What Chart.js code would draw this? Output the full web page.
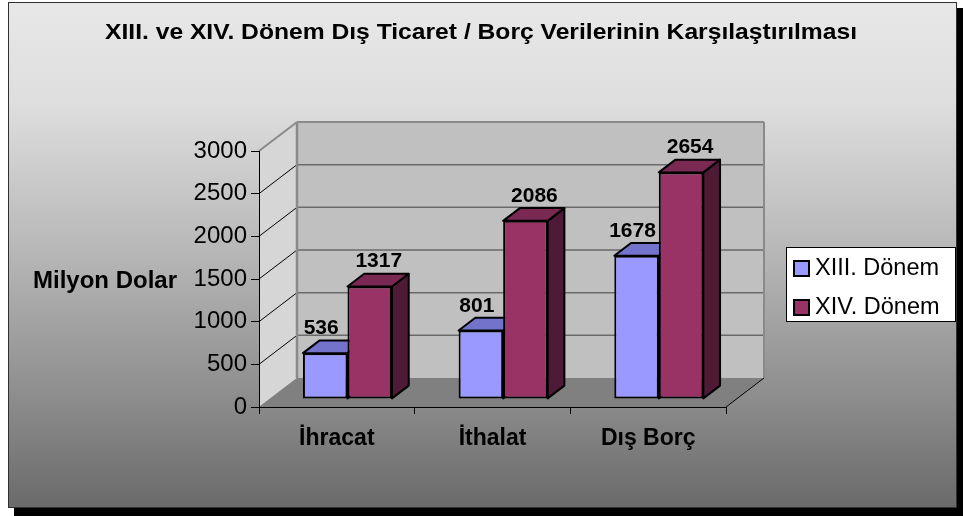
<!DOCTYPE html>
<html><head><meta charset="utf-8">
<script src="https://cdn.jsdelivr.net/npm/chart.js@4.4.0/dist/chart.umd.min.js"></script>
<style>html,body{margin:0;padding:0;background:#fff}#wrap{width:963px;height:516px;position:relative}</style>
</head><body><div id="wrap"><canvas id="c"></canvas></div>
<script>
const categories = ['İhracat', 'İthalat', 'Dış Borç'];
const seriesNames = ['XIII. Dönem', 'XIV. Dönem'];
const xiiiValues = [536, 801, 1678];
const xivValues = [1317, 2086, 2654];
const yTicks = [0, 500, 1000, 1500, 2000, 2500, 3000];
const titleText = 'XIII. ve XIV. Dönem Dış Ticaret / Borç Verilerinin Karşılaştırılması';
const yAxisTitle = 'Milyon Dolar';

const FONT = "'Liberation Sans', Arial, sans-serif";
const COLORS = ['#9999ff', '#993366'];
const TOPS = ['#7373cc', '#7a2952'];
const SIDES = ['#4d4d80', '#4f1a35'];
const DX = 38, DY = -29;       // floor depth vector
const F0 = 0.28, F1 = 0.72;    // bar front/back depth fractions
const LABEL_DX = [-4, 9];

function poly(ctx, pts, fill, stroke, lw) {
  ctx.beginPath();
  ctx.moveTo(pts[0][0], pts[0][1]);
  for (let i = 1; i < pts.length; i++) ctx.lineTo(pts[i][0], pts[i][1]);
  ctx.closePath();
  if (fill) { ctx.fillStyle = fill; ctx.fill(); }
  if (stroke) { ctx.strokeStyle = stroke; ctx.lineWidth = lw || 1; ctx.stroke(); }
}
function line(ctx, x0, y0, x1, y1, c, lw) {
  ctx.beginPath(); ctx.moveTo(x0, y0); ctx.lineTo(x1, y1);
  ctx.strokeStyle = c; ctx.lineWidth = lw; ctx.stroke();
}
function stretchedText(ctx, text, cx, cy, width) {
  const w = ctx.measureText(text).width;
  const sx = width / w;
  ctx.save();
  ctx.translate(cx, cy);
  ctx.scale(sx, 1);
  ctx.textAlign = 'center';
  ctx.fillText(text, 0, 0);
  ctx.restore();
}

const scene = {
  id: 'scene',
  beforeDraw(chart) {
    const ctx = chart.ctx;
    const W = chart.width, H = chart.height;
    const { left, right, top, bottom } = chart.chartArea;
    const ys = chart.scales.y;
    ctx.save();
    ctx.fillStyle = '#ffffff'; ctx.fillRect(0, 0, W, H);
    ctx.fillStyle = '#000000'; ctx.fillRect(14, 8, W - 14, H - 8);
    const g = ctx.createLinearGradient(0, 2, 0, 508);
    g.addColorStop(0, '#e8e8e8');
    g.addColorStop(0.2, '#dedede');
    g.addColorStop(0.5, '#b6b6b6');
    g.addColorStop(0.8, '#8a8a8a');
    g.addColorStop(1, '#6a6a6a');
    ctx.fillStyle = g; ctx.fillRect(8, 2, 949, 506);
    ctx.strokeStyle = '#303030'; ctx.lineWidth = 1; ctx.strokeRect(8.5, 2.5, 948, 505);

    // walls and floor
    poly(ctx, [[left + DX, top + DY], [right + DX, top + DY], [right + DX, bottom + DY], [left + DX, bottom + DY]], '#c0c0c0');
    poly(ctx, [[left, bottom], [left, top], [left + DX, top + DY], [left + DX, bottom + DY]], '#d6d6d6');
    poly(ctx, [[left, bottom], [right, bottom], [right + DX, bottom + DY], [left + DX, bottom + DY]], '#808080');

    for (const v of yTicks) {
      if (v === 0) continue;
      const y = ys.getPixelForValue(v);
      const last = v === yTicks[yTicks.length - 1];
      line(ctx, left + DX, y + DY, right + DX, y + DY, last ? '#8a8a8a' : '#6a6a6a', last ? 2 : 1.5);
      line(ctx, left, y, left + DX, y + DY, last ? '#8a8a8a' : '#000000', last ? 2 : 1);
    }
    line(ctx, left + DX, top + DY, left + DX, bottom + DY, '#8a8a8a', 2.5);
    line(ctx, right + DX, top + DY, right + DX, bottom + DY, '#8a8a8a', 2);
    line(ctx, right, bottom, right + DX, bottom + DY, '#000000', 1);

    // title
    ctx.fillStyle = '#000';
    ctx.font = 'bold 22px ' + FONT;
    ctx.textBaseline = 'middle';
    stretchedText(ctx, titleText, 481, 33, 752);
    ctx.restore();
  },
  beforeDatasetsDraw(chart) {
    const ctx = chart.ctx;
    const fx = F0 * DX, fy = F0 * DY;
    const bx = (F1 - F0) * DX, by = (F1 - F0) * DY;
    ctx.save();
    ctx.lineJoin = 'round';
    const n = chart.data.labels.length;
    for (let j = 0; j < n; j++) {
      chart.data.datasets.forEach((ds, i) => {
        const el = chart.getDatasetMeta(i).data[j];
        const x0 = el.x - el.width / 2 + fx, x1 = el.x + el.width / 2 + fx;
        const yT = el.y + fy, yB = el.base + fy;
        poly(ctx, [[x1, yT], [x1 + bx, yT + by], [x1 + bx, yB + by], [x1, yB]], SIDES[i], '#000', 2);
        poly(ctx, [[x0, yT], [x1, yT], [x1 + bx, yT + by], [x0 + bx, yT + by]], TOPS[i], '#000', 2);
      });
    }
    ctx.restore();
    ctx.save();
    ctx.translate(fx, fy);
  },
  afterDatasetsDraw(chart) {
    const ctx = chart.ctx;
    ctx.restore();
    const fx = F0 * DX, fy = F0 * DY;
    ctx.save();
    // value labels
    ctx.font = 'bold 21px ' + FONT;
    ctx.fillStyle = '#000';
    ctx.textAlign = 'center';
    ctx.textBaseline = 'alphabetic';
    chart.data.datasets.forEach((ds, i) => {
      chart.getDatasetMeta(i).data.forEach((el, j) => {
        ctx.fillText(String(ds.data[j]), el.x + fx + LABEL_DX[i], el.y + fy - 19);
      });
    });
    // y axis title
    ctx.font = 'bold 24px ' + FONT;
    ctx.textBaseline = 'middle';
    ctx.fillText(yAxisTitle, 105, 281);
    // legend
    ctx.fillStyle = '#ffffff';
    ctx.fillRect(786, 247, 170, 75);
    ctx.strokeStyle = '#000'; ctx.lineWidth = 1;
    ctx.strokeRect(786.5, 247.5, 169, 74);
    ctx.textAlign = 'left';
    ctx.font = '23.5px ' + FONT;
    chart.data.datasets.forEach((ds, i) => {
      const cy = 268 + i * 39;
      ctx.fillStyle = ds.backgroundColor;
      ctx.fillRect(794, cy - 7, 15, 15);
      ctx.strokeStyle = '#000'; ctx.lineWidth = 2;
      ctx.strokeRect(794, cy - 7, 15, 15);
      ctx.fillStyle = '#000';
      ctx.fillText(ds.label, 815, cy + 1);
    });
    ctx.restore();
  }
};

new Chart(document.getElementById('c'), {
  type: 'bar',
  data: {
    labels: categories,
    datasets: [
      { label: seriesNames[0], data: xiiiValues, backgroundColor: COLORS[0], borderColor: '#000', borderWidth: 2, borderSkipped: false, categoryPercentage: 0.572, barPercentage: 1, clip: false },
      { label: seriesNames[1], data: xivValues, backgroundColor: COLORS[1], borderColor: '#000', borderWidth: 2, borderSkipped: false, categoryPercentage: 0.572, barPercentage: 1, clip: false }
    ]
  },
  options: {
    responsive: true,
    maintainAspectRatio: false,
    animation: false,
    events: [],
    layout: { padding: { left: 0, right: 237, top: 151, bottom: 0 } },
    plugins: {
      legend: { display: false },
      tooltip: { enabled: false },
      title: { display: false }
    },
    scales: {
      x: {
        afterFit: s => { s.height = 109; },
        grid: { drawOnChartArea: false, drawTicks: true, tickLength: 7, color: '#000', offset: true },
        border: { display: true, color: '#000', width: 1 },
        ticks: { color: '#000', font: { family: FONT, size: 23, weight: 'bold' }, padding: 11, maxRotation: 0 }
      },
      y: {
        min: 0, max: 3000,
        afterFit: s => { s.width = 259; },
        afterBuildTicks: s => { s.ticks = yTicks.map(v => ({ value: v })); },
        grid: { drawOnChartArea: false, drawTicks: true, tickLength: 8, color: '#000' },
        border: { display: true, color: '#000', width: 1 },
        ticks: { color: '#000', font: { family: FONT, size: 24 }, padding: 4, callback: v => String(v) }
      }
    }
  },
  plugins: [scene]
});
</script>
</body></html>
